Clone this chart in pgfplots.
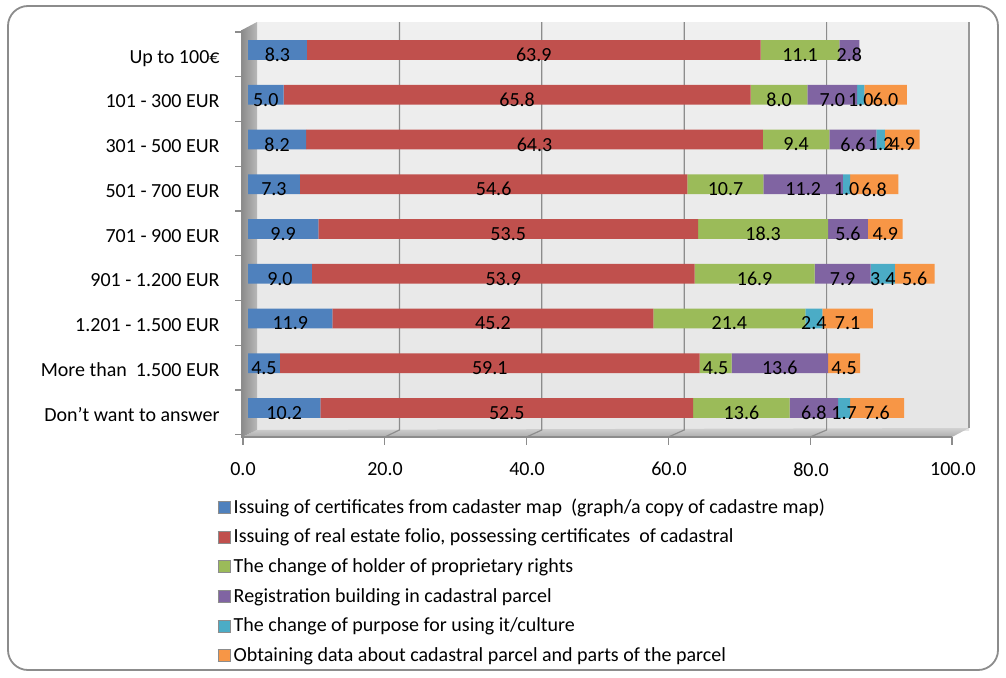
\documentclass[border=0pt]{standalone}
\usepackage{pgfplots}
\pgfplotsset{compat=1.18}
\usepackage{pgfplotstable}
\usepackage{fontspec}
\setmainfont{Carlito}
\definecolor{cA}{HTML}{4F81BD}
\definecolor{cB}{HTML}{C0504D}
\definecolor{cC}{HTML}{9BBB59}
\definecolor{cD}{HTML}{8064A2}
\definecolor{cE}{HTML}{4BACC6}
\definecolor{cF}{HTML}{F79646}
\newcommand{\px}[2]{({(#1)*0.5pt},{(677-(#2))*0.5pt})}
\newcommand{\sq}[1]{{\setlength{\fboxsep}{0pt}\setlength{\fboxrule}{0.4pt}\fcolorbox{black!45}{#1}{\rule{0pt}{5.6pt}\hspace{5.6pt}}}\hspace{1.6pt}}
\pgfplotsset{
  cyl/.style={draw=none, fill=#1},
}
\pgfplotstableread{
y  a    b    c    d    e   f
9  8.3  63.9 11.1 2.8  0   0
8  5.0  65.8 8.0  7.0  1.0 6.0
7  8.2  64.3 9.4  6.6  1.2 4.9
6  7.3  54.6 10.7 11.2 1.0 6.8
5  9.9  53.5 18.3 5.6  0   4.9
4  9.0  53.9 16.9 7.9  3.4 5.6
3  11.9 45.2 21.4 0    2.4 7.1
2  4.5  59.1 4.5  13.6 0   4.5
1  10.2 52.5 13.6 6.8  1.7 7.6
}\datatable
\begin{document}
\begin{tikzpicture}
\fill[white] \px{0}{0} rectangle \px{1006}{677};
\draw[black!45, line width=0.9pt, rounded corners=10pt] \px{8}{6} rectangle \px{998}{670};
% back wall
\shade[top color=black!6, bottom color=black!10] \px{257}{22} rectangle \px{969}{430};
\draw[black!40, line width=0.6pt] \px{969}{22} -- \px{969}{428};
% floor
\shade[top color=black!18, bottom color=black!32] \px{257}{430} -- \px{969}{428} -- \px{952}{437} -- \px{242}{437} -- cycle;
% left wall
\shade[left color=black!45, right color=black!28] \px{242}{30} -- \px{257}{22} -- \px{257}{430} -- \px{242}{437} -- cycle;
% grid lines
\foreach \v in {20,40,60,80} {
  \draw[black!45, line width=0.6pt] \px{257+7.12*\v}{22} -- \px{257+7.12*\v}{430} -- \px{243+7.09*\v}{437};
}
% front axis lines and ticks
\draw[black!45, line width=0.6pt] \px{242}{30} -- \px{242}{437} -- \px{952}{437};
\foreach \k in {0,...,9} { \draw[black!45, line width=0.6pt] \px{235}{32+44.75*\k} -- \px{242}{32+44.75*\k}; }
\foreach \v in {0,20,...,100} { \draw[black!45, line width=0.6pt] \px{243+7.09*\v}{437} -- \px{243+7.09*\v}{445}; }
\begin{axis}[
  at={(124pt,123.3pt)}, anchor=south west,
  scale only axis, width=355pt, height=201.4pt,
  xbar stacked, bar width=9.8pt,
  xmin=0, xmax=100, ymin=0.5, ymax=9.5,
  clip=false,
  axis line style={draw=none}, major tick length=0pt,
  xtick={0,20,...,100},
  xticklabels={0.0,20.0,40.0,60.0,80.0,100.0},
  xticklabel style={xshift=-2.5pt, yshift=-12.5pt},
  ytick={1,...,9},
  yticklabels={Don’t want to answer, More than\ \ 1.500 EUR, 1.201 - 1.500 EUR, 901 - 1.200 EUR, 701 - 900 EUR, 501 - 700 EUR, 301 - 500 EUR, 101 - 300 EUR, Up to 100€},
  yticklabel style={anchor=base east, xshift=-10.7pt, yshift=-6.6pt},
  point meta=explicit,
  /pgf/number format/.cd, fixed, fixed zerofill, precision=1, assume math mode=true, /pgfplots/.cd,
  nodes near coords={\pgfmathfloatifflags{\pgfplotspointmeta}{0}{}{\pgfmathprintnumber{\pgfplotspointmeta}}},
  every node near coord/.append style={anchor=center, yshift=-2.5pt, text=black, inner sep=0pt},
  legend style={at={(axis description cs:-0.046,-0.165)}, anchor=north west, draw=none, fill=none, inner sep=0pt,
    row sep=3.8pt, nodes={inner sep=1pt, text height=7pt, text depth=2pt}},
  legend cell align=left,
  legend image code/.code={},
]
\addplot[cyl=cA] table[x=a, y=y, meta=a] {\datatable};
\addplot[cyl=cB] table[x=b, y=y, meta=b] {\datatable};
\addplot[cyl=cC] table[x=c, y=y, meta=c] {\datatable};
\addplot[cyl=cD] table[x=d, y=y, meta=d] {\datatable};
\addplot[cyl=cE] table[x=e, y=y, meta=e] {\datatable};
\addplot[cyl=cF] table[x=f, y=y, meta=f] {\datatable};
\legend{\sq{cA}Issuing of certificates from cadaster map\ \ (graph/a copy of cadastre map),
{\sq{cB}Issuing of real estate folio, possessing certificates\ \ of cadastral},
\sq{cC}The change of holder of proprietary rights,
\sq{cD}Registration building in cadastral parcel,
\sq{cE}The change of purpose for using it/culture,
\sq{cF}Obtaining data about cadastral parcel and parts of the parcel}
\end{axis}
\end{tikzpicture}
\end{document}
